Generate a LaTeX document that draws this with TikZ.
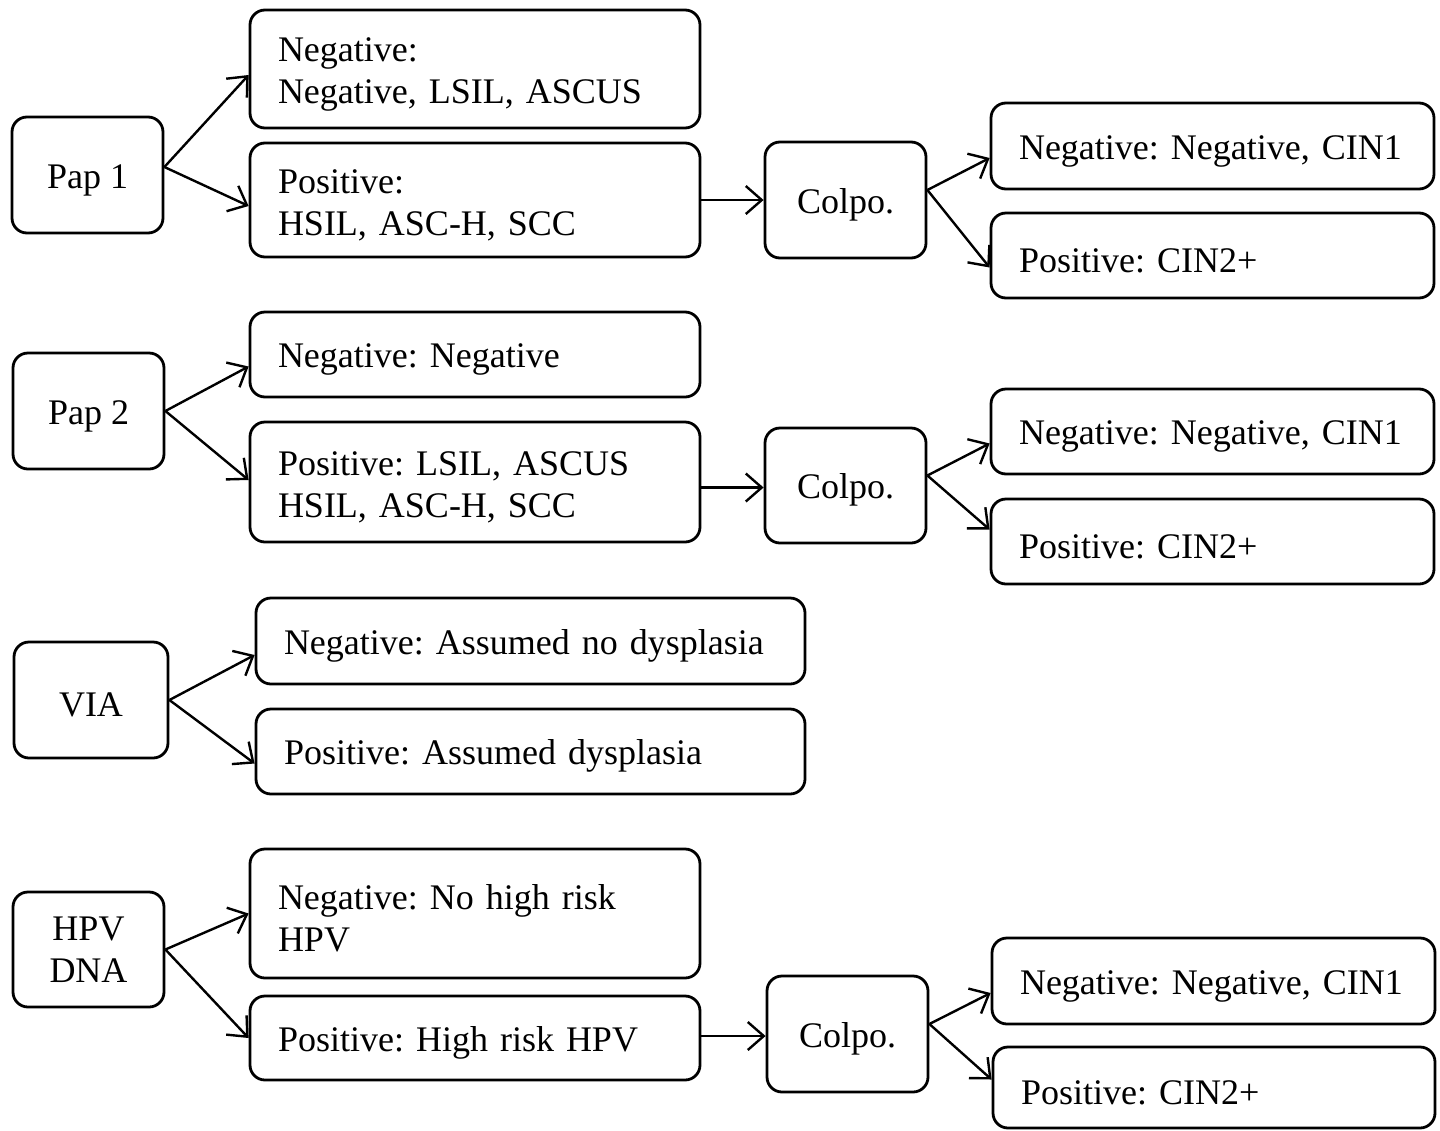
\documentclass[tikz,border=0pt]{standalone}
\usepackage{fontspec}
\setmainfont{Liberation Serif}
\usetikzlibrary{arrows.meta}
\frenchspacing
\begin{document}
\begin{tikzpicture}[x=0.5pt,y=-0.5pt,
  box/.style={draw, rounded corners=7.5pt, line width=1.4pt, font=\fontsize{18}{21}\selectfont\frenchspacing,
    execute at begin node={\rule{0pt}{17pt}}},
  cbox/.style={box, align=center, inner sep=0pt},
  wbox/.style={box, align=left, inner xsep=14pt, inner ysep=0pt, text width=#1},
  arr/.style={line width=1.2pt, -{Straight Barb[length=8pt,width=14pt]}}]
\useasboundingbox (0,0) rectangle (1440,1130);
% --- Pap 1
\node[cbox, minimum width=75.5pt, minimum height=58pt] (pap1) at (87.5,175) {Pap 1};
\node[wbox=197pt, minimum height=59pt] (neg1) at (475,69) {Negative:\\Negative, LSIL, ASCUS};
\node[wbox=197pt, minimum height=57pt] (pos1) at (475,200) {Positive:\\HSIL, ASC-H, SCC};
\node[cbox, minimum width=80.5pt, minimum height=58pt] (colpo1) at (845.5,200) {Colpo.};
\node[wbox=193.5pt, minimum height=43pt] (cn1) at (1212.5,146) {Negative: Negative, CIN1};
\node[wbox=193.5pt, minimum height=42.5pt] (cp1) at (1212.5,255.5) {Positive: CIN2+};
% --- Pap 2
\node[cbox, minimum width=75.5pt, minimum height=58pt] (pap2) at (88.5,411) {Pap 2};
\node[wbox=197pt, minimum height=42.5pt] (neg2) at (475,354.5) {Negative: Negative};
\node[wbox=197pt, minimum height=60pt] (pos2) at (475,482) {Positive: LSIL, ASCUS\\HSIL, ASC-H, SCC};
\node[cbox, minimum width=80.5pt, minimum height=57.5pt] (colpo2) at (845.5,485.5) {Colpo.};
\node[wbox=193.5pt, minimum height=42.5pt] (cn2) at (1212.5,431.5) {Negative: Negative, CIN1};
\node[wbox=193.5pt, minimum height=42.5pt] (cp2) at (1212.5,541.5) {Positive: CIN2+};
% --- VIA
\node[cbox, minimum width=77pt, minimum height=58pt] (via) at (91,700) {VIA};
\node[wbox=246.5pt, minimum height=43pt] (negv) at (530.5,641) {Negative: Assumed no dysplasia};
\node[wbox=246.5pt, minimum height=42.5pt] (posv) at (530.5,751.5) {Positive: Assumed dysplasia};
% --- HPV DNA
\node[cbox, minimum width=75.5pt, minimum height=57.5pt] (hpv) at (88.5,949.5) {HPV\\DNA};
\node[wbox=197pt, minimum height=64.5pt] (negh) at (475,913.5) {Negative: No high risk\\HPV};
\node[wbox=197pt, minimum height=42pt] (posh) at (475,1038) {Positive: High risk HPV};
\node[cbox, minimum width=80.5pt, minimum height=58pt] (colpo3) at (847.5,1034) {Colpo.};
\node[wbox=193.5pt, minimum height=43pt] (cn3) at (1213.5,981) {Negative: Negative, CIN1};
\node[wbox=193pt, minimum height=40.5pt] (cp3) at (1214,1087.5) {Positive: CIN2+};
% --- connectors
\draw[arr] ([yshift=4pt]pap1.east) -- ([yshift=-3pt]neg1.west);
\draw[arr] ([yshift=4pt]pap1.east) -- ([yshift=-3pt]pos1.west);
\draw[arr] (pos1.east |- colpo1.west) -- (colpo1.west);
\draw[arr] ([yshift=5pt]colpo1.east) -- ([yshift=-6pt]cn1.west);
\draw[arr] ([yshift=5pt]colpo1.east) -- ([yshift=-6pt]cp1.west);
\draw[arr] (pap2.east) -- ([yshift=-6pt]neg2.west);
\draw[arr] (pap2.east) -- ([yshift=1pt]pos2.west);
\draw[arr] ([yshift=-1pt]pos2.east |- colpo2.west) -- ([yshift=-1pt]colpo2.west);
\draw[arr] ([yshift=5pt]colpo2.east) -- ([yshift=-6pt]cn2.west);
\draw[arr] ([yshift=5pt]colpo2.east) -- ([yshift=6pt]cp2.west);
\draw[arr] (via.east) -- ([yshift=-7pt]negv.west);
\draw[arr] (via.east) -- ([yshift=-6pt]posv.west);
\draw[arr] (hpv.east) -- (negh.west);
\draw[arr] (hpv.east) -- (posh.west);
\draw[arr] ([yshift=-1pt]posh.east |- colpo3.west) -- ([yshift=-1pt]colpo3.west);
\draw[arr] ([yshift=5pt]colpo3.east) -- ([yshift=-6pt]cn3.west);
\draw[arr] ([yshift=5pt]colpo3.east) -- ([yshift=4pt]cp3.west);
\end{tikzpicture}
\end{document}
